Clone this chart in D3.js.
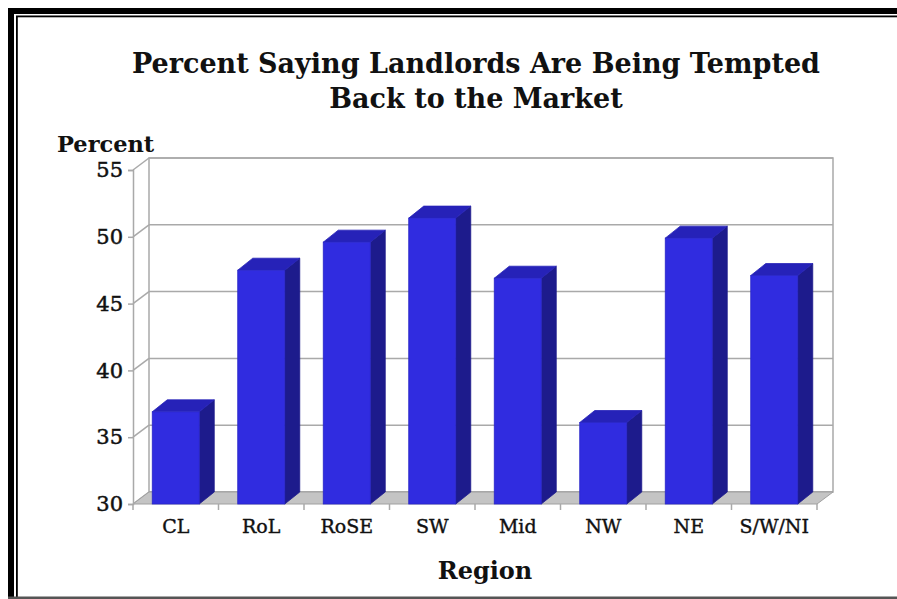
<!DOCTYPE html>
<html>
<head>
<meta charset="utf-8">
<script src="https://cdn.jsdelivr.net/npm/d3@7"></script>
<style>
  html, body { margin: 0; padding: 0; background: #fff; }
  svg { display: block; }
  text { font-family: "DejaVu Serif", "Liberation Serif", serif; fill: #111; }
</style>
</head>
<body>
<svg id="chart" width="897" height="599"></svg>
<script>
// Survey results by region
const regions = ["CL", "RoL", "RoSE", "SW", "Mid", "NW", "NE", "S/W/NI"];
const percentTempted = [36.9, 47.5, 49.6, 51.4, 46.9, 36.1, 49.9, 47.1];
const yTicks = [30, 35, 40, 45, 50, 55];

const titleLines = ["Percent Saying Landlords Are Being Tempted", "Back to the Market"];
const yTitle = "Percent";
const xTitle = "Region";

const data = regions.map((r, i) => ({ region: r, value: percentTempted[i] }));

const svg = d3.select("#chart");

// Page frame: heavy rule plus a thin inner rule on the top and left edges
const frame = svg.append("g");
frame.append("rect").attr("x", 8).attr("y", 8).attr("width", 6).attr("height", 591).attr("fill", "#000");
frame.append("rect").attr("x", 8).attr("y", 8).attr("width", 889).attr("height", 6).attr("fill", "#000");
frame.append("rect").attr("x", 16).attr("y", 16).attr("width", 1.8).attr("height", 583).attr("fill", "#000");
frame.append("rect").attr("x", 16).attr("y", 15.5).attr("width", 881).attr("height", 1.8).attr("fill", "#000");
frame.append("rect").attr("x", 8).attr("y", 596.5).attr("width", 889).attr("height", 2.5).attr("fill", "#555");

// 3-D plot geometry: front plane plus an offset for the depth
const left = 133, right = 817;
const depthX = 16, depthY = -12;

const x = d3.scaleBand().domain(regions).range([left, right]).padding(0);
const y = d3.scaleLinear().domain([30, 55]).range([504, 170]);

const gridColor = "#a9a9a9";
const plot = svg.append("g");

// Back wall
plot.append("rect")
  .attr("x", left + depthX).attr("y", y(55) + depthY)
  .attr("width", right - left).attr("height", y(30) - y(55))
  .attr("fill", "#fff").attr("stroke", gridColor).attr("stroke-width", 1.5);

// Gridlines across the back wall, continued diagonally on the side wall
yTicks.forEach(t => {
  plot.append("line")
    .attr("x1", left + depthX).attr("x2", right + depthX)
    .attr("y1", y(t) + depthY).attr("y2", y(t) + depthY)
    .attr("stroke", gridColor).attr("stroke-width", 1.5);
  plot.append("line")
    .attr("x1", left).attr("y1", y(t))
    .attr("x2", left + depthX).attr("y2", y(t) + depthY)
    .attr("stroke", gridColor).attr("stroke-width", 1.5);
});

// Floor
const floorPts = [[left, y(30)], [right, y(30)], [right + depthX, y(30) + depthY], [left + depthX, y(30) + depthY]];
plot.append("polygon")
  .attr("points", floorPts.map(p => p.join(",")).join(" "))
  .attr("fill", "#c4c4c4").attr("stroke", "#a0a0a0").attr("stroke-width", 1);

// Y axis on the front edge of the side wall
const yAxis = d3.axisLeft(y).tickValues(yTicks).tickSize(5).tickPadding(5).tickFormat(d3.format("d"));
const yAxisG = plot.append("g").attr("transform", `translate(${left},0)`).call(yAxis);
yAxisG.select(".domain").attr("stroke", gridColor).attr("stroke-width", 1.5);
yAxisG.selectAll(".tick line").attr("stroke", gridColor).attr("stroke-width", 1.5);
yAxisG.selectAll(".tick text")
  .attr("font-size", 21).attr("font-family", "DejaVu Serif, serif")
  .attr("fill", "#111").attr("stroke", "#111").attr("stroke-width", 0.5);

// X axis: category labels with ticks on the category boundaries
const xAxis = d3.axisBottom(x).tickSize(0).tickPadding(16);
const xAxisG = plot.append("g").attr("transform", `translate(0,${y(30)})`).call(xAxis);
xAxisG.select(".domain").remove();
xAxisG.selectAll(".tick text")
  .attr("font-size", 19).attr("font-family", "DejaVu Serif, serif")
  .attr("fill", "#111").attr("stroke", "#111").attr("stroke-width", 0.4);

const bounds = regions.map(r => x(r)).concat([right]);
plot.selectAll(".xbound").data(bounds).enter().append("line")
  .attr("class", "xbound")
  .attr("x1", d => d).attr("x2", d => d)
  .attr("y1", y(30)).attr("y2", y(30) + 6)
  .attr("stroke", gridColor).attr("stroke-width", 1.5);

// Bars as 3-D columns: front face, side face and top face
const barW = x.bandwidth() * 0.55;
const barDX = 15, barDY = -12;
const bars = plot.selectAll(".bar").data(data).enter().append("g").attr("class", "bar");

bars.append("polygon") // side
  .attr("points", d => {
    const x1 = x(d.region) + (x.bandwidth() - barW) / 2 + barW;
    return [[x1, y(30)], [x1 + barDX, y(30) + barDY], [x1 + barDX, y(d.value) + barDY], [x1, y(d.value)]]
      .map(p => p.join(",")).join(" ");
  })
  .attr("fill", "#1d1b8c").attr("stroke", "#1d1b8c").attr("stroke-width", 0.8);

bars.append("polygon") // top
  .attr("points", d => {
    const x0 = x(d.region) + (x.bandwidth() - barW) / 2;
    const yt = y(d.value);
    return [[x0, yt], [x0 + barW, yt], [x0 + barW + barDX, yt + barDY], [x0 + barDX, yt + barDY]]
      .map(p => p.join(",")).join(" ");
  })
  .attr("fill", "#2622b8").attr("stroke", "#2622b8").attr("stroke-width", 0.8);

bars.append("rect") // front
  .attr("x", d => x(d.region) + (x.bandwidth() - barW) / 2)
  .attr("y", d => y(d.value))
  .attr("width", barW)
  .attr("height", d => y(30) - y(d.value))
  .attr("fill", "#302ce0").attr("stroke", "#2a27c8").attr("stroke-width", 0.8);

// Titles
svg.append("text").attr("x", 476).attr("y", 73).attr("text-anchor", "middle")
  .attr("font-size", 27).attr("font-weight", "bold").text(titleLines[0]);
svg.append("text").attr("x", 476).attr("y", 108).attr("text-anchor", "middle")
  .attr("font-size", 27).attr("font-weight", "bold").text(titleLines[1]);

svg.append("text").attr("x", 57).attr("y", 152)
  .attr("font-size", 22.5).attr("font-weight", "bold").text(yTitle);

svg.append("text").attr("x", 485).attr("y", 579).attr("text-anchor", "middle")
  .attr("font-size", 24).attr("font-weight", "bold").text(xTitle);
</script>
</body>
</html>
